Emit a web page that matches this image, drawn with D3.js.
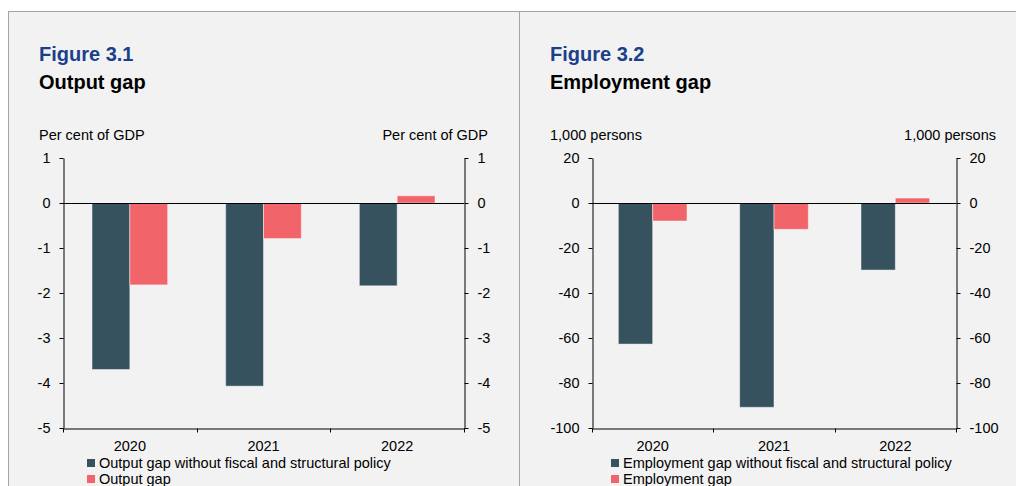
<!DOCTYPE html>
<html lang="en">
<head>
    <meta charset="UTF-8">
    <title>Output gap and employment gap</title>
    <script src="https://d3js.org/d3.v7.min.js"></script>
    <style>
        body { margin: 0; background: #fff; }
        text { font-family: "Liberation Sans", Arial, sans-serif; fill: #000; }
        .fig { font-weight: bold; font-size: 20px; fill: #1c3f8c; }
        .title { font-weight: bold; font-size: 20px; }
        .small { font-size: 14.5px; }
        .axis text { font-size: 14.5px; font-family: "Liberation Sans", Arial, sans-serif; }
        .axis path, .axis line { stroke: #000; }
    </style>
</head>
<body>
    <script>
        // Data
        const years = ["2020", "2021", "2022"];

        const outputSeries = ["Output gap without fiscal and structural policy", "Output gap"];
        const outputWithout = [-3.7, -4.07, -1.84];
        const outputGap = [-1.82, -0.79, 0.16];
        const outputTicks = [1, 0, -1, -2, -3, -4, -5];

        const employSeries = ["Employment gap without fiscal and structural policy", "Employment gap"];
        const employWithout = [-62.7, -90.8, -29.8];
        const employGap = [-8, -11.7, 2.2];
        const employTicks = [20, 0, -20, -40, -60, -80, -100];

        const colors = ["#36525f", "#f0646a"];

        const width = 1016, height = 486;

        const svg = d3.select("body").append("svg")
            .attr("width", width)
            .attr("height", height);

        // Panel background and frame
        svg.append("rect")
            .attr("x", 8.5).attr("y", 11.5)
            .attr("width", width).attr("height", height)
            .attr("fill", "#f2f2f2")
            .attr("stroke", "#a6a6a6");
        svg.append("line")
            .attr("x1", 519.5).attr("x2", 519.5)
            .attr("y1", 11.5).attr("y2", height)
            .attr("stroke", "#a6a6a6");

        const panels = [
            {
                fig: "Figure 3.1", title: "Output gap", unit: "Per cent of GDP",
                textX: 39, unitRight: 488, left: 63, right: 464, legendX: 87,
                domain: [-5, 1], ticks: outputTicks,
                series: outputSeries, values: [outputWithout, outputGap]
            },
            {
                fig: "Figure 3.2", title: "Employment gap", unit: "1,000 persons",
                textX: 550, unitRight: 996, left: 592, right: 956, legendX: 611,
                domain: [-100, 20], ticks: employTicks,
                series: employSeries, values: [employWithout, employGap]
            }
        ];

        const plotTop = 158, plotBottom = 428;
        const fmt = d => String(d);

        panels.forEach(p => {
            const g = svg.append("g");

            g.append("text").attr("class", "fig")
                .attr("x", p.textX).attr("y", 61).text(p.fig);
            g.append("text").attr("class", "title")
                .attr("x", p.textX).attr("y", 89).text(p.title);
            g.append("text").attr("class", "small")
                .attr("x", p.textX).attr("y", 140).text(p.unit);
            g.append("text").attr("class", "small")
                .attr("x", p.unitRight).attr("y", 140)
                .attr("text-anchor", "end").text(p.unit);

            const x = d3.scaleBand().domain(years).range([p.left, p.right]);
            const y = d3.scaleLinear().domain(p.domain).range([plotBottom, plotTop]);
            const barW = x.bandwidth() * 0.283;

            // Bars
            p.values.forEach((vals, si) => {
                g.append("g").selectAll("rect")
                    .data(vals)
                    .enter().append("rect")
                    .attr("x", (d, i) => x(years[i]) + x.bandwidth() / 2 + (si - 1) * barW)
                    .attr("y", d => y(Math.max(0, d)))
                    .attr("width", barW)
                    .attr("height", d => Math.abs(y(d) - y(0)))
                    .attr("fill", colors[si])
                    .attr("stroke", "#fff")
                    .attr("stroke-opacity", 0.45)
                    .attr("stroke-width", 1);
            });

            // Left axis
            g.append("g").attr("class", "axis")
                .attr("transform", `translate(${p.left + 0.5},0)`)
                .call(d3.axisLeft(y).tickValues(p.ticks).tickFormat(fmt).tickSize(4).tickSizeOuter(0).tickPadding(9))
                .call(a => a.selectAll("text").attr("fill", "#000"));

            // Right axis
            g.append("g").attr("class", "axis")
                .attr("transform", `translate(${p.right + 0.5},0)`)
                .call(d3.axisRight(y).tickValues(p.ticks).tickFormat(fmt).tickSize(4).tickSizeOuter(0).tickPadding(9))
                .call(a => a.selectAll("text").attr("fill", "#000"));

            // Zero line
            g.append("line")
                .attr("x1", p.left).attr("x2", p.right)
                .attr("y1", Math.round(y(0)) + 0.5).attr("y2", Math.round(y(0)) + 0.5)
                .attr("stroke", "#000");

            // Bottom axis: labels centred, ticks on band edges
            const xAxis = g.append("g").attr("class", "axis")
                .attr("transform", `translate(0,${plotBottom + 0.5})`)
                .call(d3.axisBottom(x).tickSize(0).tickSizeOuter(0).tickPadding(12))
                .call(a => a.selectAll("text").attr("fill", "#000"));
            const edges = years.map(d => x(d)).concat([p.right]);
            xAxis.selectAll(".edge")
                .data(edges)
                .enter().append("line")
                .attr("class", "edge")
                .attr("x1", d => Math.round(d) + 0.5).attr("x2", d => Math.round(d) + 0.5)
                .attr("y1", 0).attr("y2", 4)
                .attr("stroke", "#000");

            // Legend
            const legend = g.append("g")
                .selectAll("g")
                .data(p.series)
                .enter().append("g")
                .attr("transform", (d, i) => `translate(${p.legendX},${459 + i * 16})`);
            legend.append("rect")
                .attr("width", 8).attr("height", 8)
                .attr("fill", (d, i) => colors[i]);
            legend.append("text").attr("class", "small")
                .attr("x", 12).attr("y", 8.5)
                .text(d => d);
        });
    </script>
</body>
</html>
